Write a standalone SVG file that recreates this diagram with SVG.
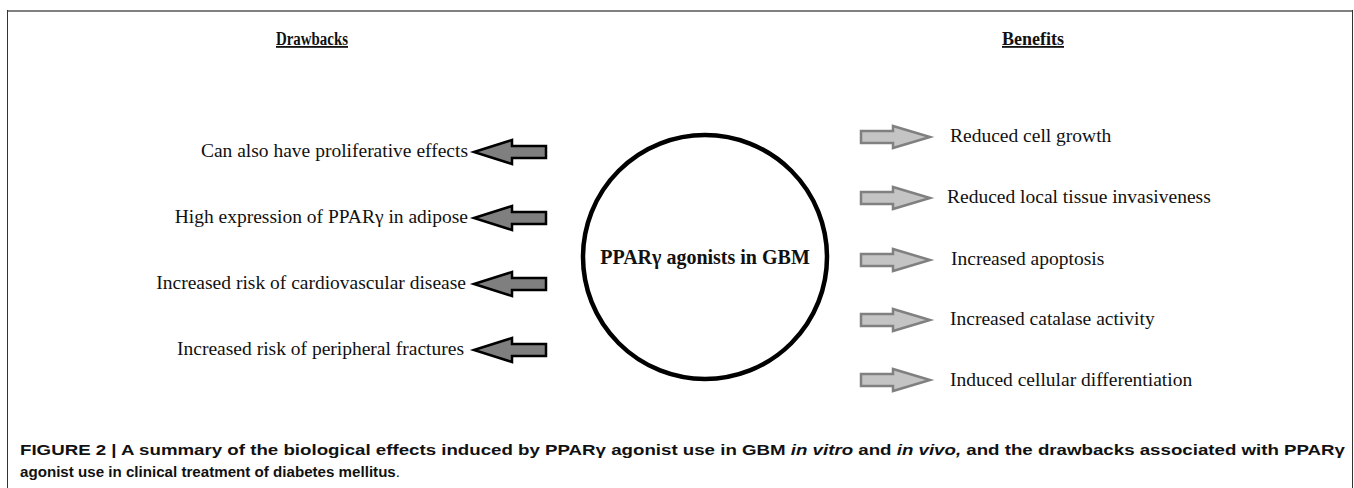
<svg xmlns="http://www.w3.org/2000/svg" width="1354" height="488" viewBox="0 0 1354 488">
<defs>
<style>
.lbl{font-family:"Liberation Serif","Times New Roman",serif;font-size:19.5px;fill:#111}
.hdr{font-family:"Liberation Serif","Times New Roman",serif;font-size:18px;font-weight:bold;fill:#111;text-decoration:underline}
.ctr{font-family:"Liberation Serif","Times New Roman",serif;font-size:20px;font-weight:bold;fill:#111}
.cap{font-family:"Liberation Sans",Arial,sans-serif;font-size:15px;font-weight:bold;fill:#111}
.la{fill:#7f7f7f;stroke:#000;stroke-width:2.5;stroke-linejoin:miter}
.ra{fill:#c4c4c4;stroke:#808080;stroke-width:2.5;stroke-linejoin:miter}
</style>
<path id="leftArrow" class="la" d="M0,0 L38,-12 L38,-6 L72,-6 L72,6 L38,6 L38,12 Z"/>
<path id="rightArrow" class="ra" d="M0,-6 L32,-6 L32,-11 L69,0 L32,11 L32,6 L0,6 Z"/>
</defs>
<rect width="1354" height="488" fill="#fff"/>
<g id="frame">
<line x1="7" y1="11" x2="1353" y2="11" stroke="#808080" stroke-width="2"/>
<line x1="7.5" y1="10" x2="7.5" y2="488" stroke="#333" stroke-width="1"/>
<line x1="1352.5" y1="10" x2="1352.5" y2="488" stroke="#333" stroke-width="1"/>
</g>
<g id="headers">
<text class="hdr" x="276" y="45" textLength="72" lengthAdjust="spacingAndGlyphs">Drawbacks</text>
<text class="hdr" x="1002" y="45" textLength="62" lengthAdjust="spacingAndGlyphs">Benefits</text>
</g>
<g id="center-node">
<circle cx="705" cy="257" r="122" fill="none" stroke="#000" stroke-width="4.5"/>
<text class="ctr" x="705" y="264" text-anchor="middle">PPARγ agonists in GBM</text>
</g>
<g id="connectors">
<use href="#leftArrow" x="474" y="152"/>
<use href="#leftArrow" x="474" y="218"/>
<use href="#leftArrow" x="474" y="284"/>
<use href="#leftArrow" x="474" y="350"/>
<use href="#rightArrow" x="861" y="137"/>
<use href="#rightArrow" x="861" y="198"/>
<use href="#rightArrow" x="861" y="260"/>
<use href="#rightArrow" x="861" y="320"/>
<use href="#rightArrow" x="861" y="380"/>
</g>
<g id="drawback-1"><text class="lbl" x="468" y="157" text-anchor="end">Can also have proliferative effects</text></g>
<g id="drawback-2"><text class="lbl" x="468" y="223" text-anchor="end">High expression of PPARγ in adipose</text></g>
<g id="drawback-3"><text class="lbl" x="466" y="289" text-anchor="end">Increased risk of cardiovascular disease</text></g>
<g id="drawback-4"><text class="lbl" x="464" y="355" text-anchor="end">Increased risk of peripheral fractures</text></g>
<g id="benefit-1"><text class="lbl" x="950" y="142">Reduced cell growth</text></g>
<g id="benefit-2"><text class="lbl" x="947" y="203">Reduced local tissue invasiveness</text></g>
<g id="benefit-3"><text class="lbl" x="951" y="265">Increased apoptosis</text></g>
<g id="benefit-4"><text class="lbl" x="950" y="325">Increased catalase activity</text></g>
<g id="benefit-5"><text class="lbl" x="950" y="386">Induced cellular differentiation</text></g>
<g id="caption">
<text class="cap" x="20" y="455" textLength="1325" lengthAdjust="spacingAndGlyphs">FIGURE 2 | A summary of the biological effects induced by PPARγ agonist use in GBM <tspan font-style="italic">in vitro</tspan> and <tspan font-style="italic">in vivo,</tspan> and the drawbacks associated with PPARγ</text>
<text class="cap" x="20" y="477" textLength="380" lengthAdjust="spacingAndGlyphs">agonist use in clinical treatment of diabetes mellitus<tspan font-weight="normal">.</tspan></text>
</g>
</svg>
